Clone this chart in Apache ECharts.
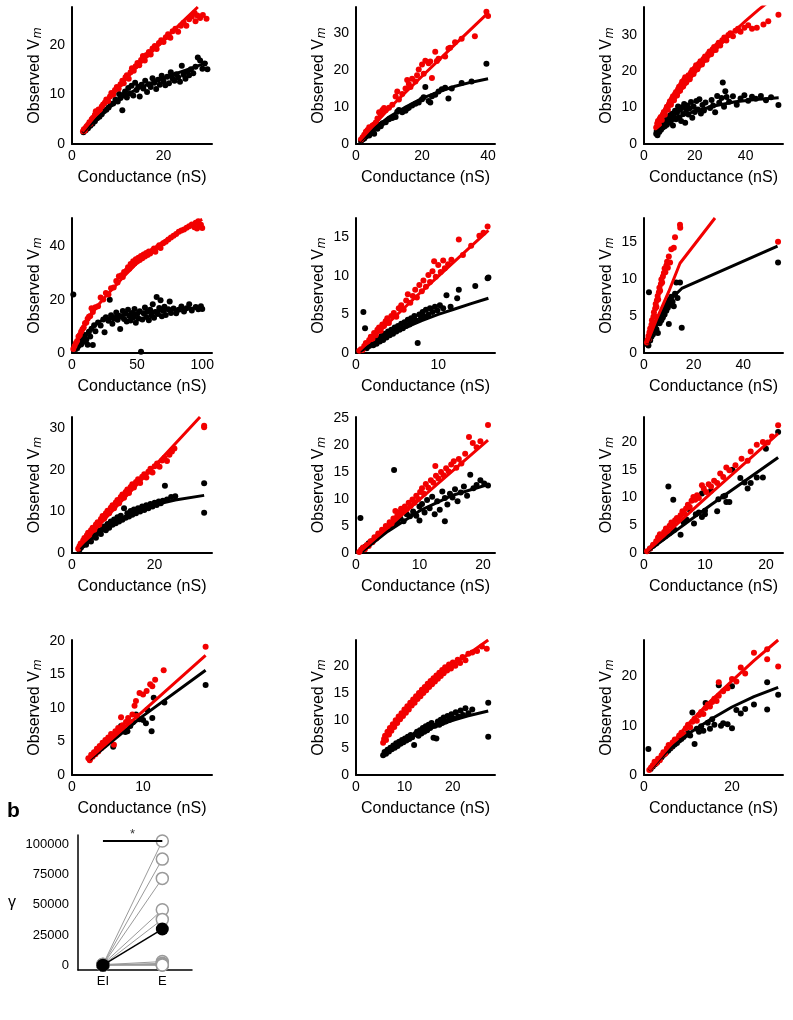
<!DOCTYPE html>
<html><head><meta charset="utf-8">
<script src="https://cdn.jsdelivr.net/npm/echarts@6/dist/echarts.min.js"></script>
<style>html,body{margin:0;padding:0;background:#fff}#c{width:793px;height:1020px}</style>
</head><body><div id="c"></div>
<script>
// ---------- DATA ----------
const p1Red=[[2.4,2.6],[2.6,3.0],[2.8,2.7],[3.0,3.3],[3.2,3.6],[3.5,3.9],[3.8,4.4],[4.0,4.1],[4.3,5.0],[4.6,5.3],[5.0,5.9],[5.2,6.6],[5.5,6.2],[5.8,7.0],[6.1,6.8],[6.5,7.6],[6.8,8.0],[7.2,8.4],[7.5,9.0],[7.9,8.7],[8.3,9.6],[8.6,10.3],[9.0,10.0],[9.4,10.9],[9.8,11.5],[10.2,11.2],[10.6,12.1],[11.0,12.8],[11.3,12.3],[11.7,13.5],[12.0,13.9],[12.4,13.2],[12.8,14.5],[13.1,15.3],[13.5,14.8],[13.9,15.7],[14.3,16.4],[14.7,15.9],[15.1,17.0],[15.5,17.8],[15.9,16.9],[16.3,18.0],[16.8,18.6],[17.2,18.1],[17.6,19.3],[18.1,19.8],[18.5,19.2],[19.0,20.4],[19.5,21.0],[20.0,20.6],[20.5,21.6],[21.0,22.2],[21.5,21.5],[22.0,22.8],[22.6,23.3],[23.2,22.7],[23.8,23.9],[24.4,24.5],[25.0,23.9],[25.6,25.2],[26.2,25.8],[26.8,26.5],[27.4,26.0],[28.0,25.5],[28.6,26.1],[29.4,25.3],[27.0,24.8]];
const p1Black=[[2.5,2.4],[3.0,2.8],[3.5,3.2],[4.0,3.7],[4.5,4.1],[5.0,4.6],[5.5,5.2],[6.0,5.5],[6.5,6.0],[7.0,6.6],[7.5,6.9],[8.0,7.4],[8.5,8.0],[9.0,8.2],[9.5,9.0],[10.0,8.6],[10.3,10.1],[10.6,9.3],[11.0,6.8],[11.2,9.9],[11.6,10.6],[12.0,9.4],[12.3,11.3],[12.7,10.2],[13.0,11.8],[13.4,9.8],[13.8,12.4],[14.1,10.9],[14.5,11.6],[14.8,9.6],[15.2,12.0],[15.6,11.2],[16.0,12.8],[16.4,10.5],[16.8,12.1],[17.2,11.5],[17.6,13.3],[18.0,12.4],[18.4,11.1],[18.8,13.0],[19.2,12.0],[19.6,13.8],[20.0,12.7],[20.4,11.9],[20.8,13.6],[21.2,12.3],[21.6,14.5],[22.0,13.2],[22.4,12.8],[22.8,14.1],[23.2,13.5],[23.6,12.6],[24.0,15.8],[24.4,14.0],[24.8,13.2],[25.2,14.6],[25.6,13.9],[26.0,15.1],[26.5,14.3],[27.0,15.6],[27.5,17.5],[28.0,16.9],[28.5,15.2],[29.0,16.3],[29.6,15.1]];
const p1RedFit=[[2.3,2.5],[5,5.6],[8,9.1],[11,12.3],[14,15.4],[17,18.2],[20,20.9],[24,24.6],[27.5,27.7]];
const p1BlackFit=[[2.3,2.3],[5,4.8],[8,7.3],[11,9.4],[14,11.0],[18,12.6],[22,14.0],[26,15.3],[29.6,16.5]];

const p2Red=[[1.5,1.2],[2,1.8],[2.5,2.5],[3,3.3],[3.5,3.8],[4,4.5],[4.5,4.2],[5,5.0],[5.5,5.3],[6,5.8],[6.5,6.9],[7,8.6],[7.5,8.0],[8,9.2],[8.5,9.7],[9,9.1],[10,9.8],[11,10.6],[12,12.8],[12.5,14.2],[13,12.0],[14,13.5],[15,15.0],[15.5,17.3],[16,16.2],[16.5,15.4],[17,17.6],[18,16.9],[18.5,18.6],[19,20.1],[20,21.5],[20.5,19.0],[21,22.5],[22,21.8],[22.5,22.3],[23,17.8],[24,24.9],[24.5,22.4],[25,23.0],[27,23.6],[28,25.8],[28.5,26.0],[30,27.5],[32,28.4],[36,29.1],[39.5,35.7],[40,34.6]];
const p2Black=[[1.5,0.8],[2,1.2],[2.5,1.5],[3,2.0],[3.5,2.5],[4,2.3],[4.5,3.0],[5,3.4],[5.5,2.8],[6,4.5],[6.5,4.1],[7,5.2],[7.5,4.8],[8,5.6],[9,5.9],[10,6.7],[11,7.0],[12,7.3],[12.5,8.7],[13,9.2],[14,8.6],[15,9.0],[15.5,9.6],[16,9.8],[17,10.4],[18,10.9],[19,11.2],[20,12.1],[20.5,12.6],[21,15.4],[22,11.6],[22.5,11.2],[23,12.9],[24,13.3],[25,14.2],[26,14.8],[27,15.2],[28,12.3],[29,15.0],[32,16.5],[35,16.9],[39.5,21.7]];
const p2RedFit=[[1,0.8],[10,9.6],[20,18.3],[30,26.9],[40,35.4]];
const p2BlackFit=[[1,0.6],[5,3.8],[10,7.3],[15,10.0],[20,12.3],[25,14.1],[30,15.6],[35,16.7],[40,17.6]];

const p3Red=[[4.8,4.5],[5.2,5.6],[5.5,6.3],[5.9,5.2],[6.2,6.9],[6.6,7.4],[7.0,6.6],[7.4,8.1],[7.8,8.8],[8.2,8.0],[8.6,9.5],[9.0,10.2],[9.4,9.4],[9.8,10.9],[10.2,11.7],[10.6,10.8],[11.0,12.4],[11.4,13.1],[11.8,12.0],[12.2,13.7],[12.6,14.3],[13.0,13.3],[13.4,15.0],[13.8,15.7],[14.2,14.6],[14.6,16.3],[15.0,17.1],[15.4,15.8],[15.8,17.6],[16.2,18.3],[16.6,16.9],[17.0,18.0],[17.5,18.9],[18.0,17.8],[18.5,19.6],[19.0,20.3],[19.5,19.2],[20.0,20.8],[20.5,21.6],[21.0,20.5],[21.6,22.0],[22.2,22.7],[22.8,21.8],[23.4,23.3],[24.0,24.0],[24.6,23.1],[25.2,24.7],[25.8,25.4],[26.4,24.6],[27.0,26.0],[27.6,26.6],[28.2,25.8],[28.8,27.1],[29.4,27.8],[30.0,27.0],[30.8,28.5],[31.6,29.2],[32.4,28.4],[33.2,29.9],[34.0,30.4],[35.0,29.6],[36.0,31.1],[37.0,31.6],[38.0,30.8],[39.5,31.9],[41.0,32.6],[42.5,31.6],[44.4,31.9],[47.0,32.8],[48.9,33.7],[52.9,35.5]];
const p3Black=[[4.8,2.8],[5.0,3.6],[5.3,2.4],[5.6,4.2],[6.0,3.3],[6.3,4.8],[6.7,3.9],[7.0,5.4],[7.4,4.5],[7.8,6.1],[8.2,4.9],[8.6,6.6],[9.0,5.3],[9.4,7.2],[9.8,5.9],[10.2,7.8],[10.6,6.4],[11.0,8.3],[11.4,5.1],[11.8,7.4],[12.2,9.1],[12.6,6.8],[13.0,8.6],[13.4,10.3],[13.8,7.3],[14.2,9.4],[14.6,6.3],[15.0,10.1],[15.4,8.2],[15.8,11.0],[16.2,5.8],[16.6,9.3],[17.0,10.6],[17.5,8.1],[18.0,9.8],[18.5,11.5],[19.0,7.2],[19.5,10.3],[20.0,8.8],[20.6,11.8],[21.2,9.5],[21.8,12.3],[22.4,8.4],[23.0,10.7],[23.6,9.2],[24.2,11.4],[26.0,9.9],[26.6,12.1],[27.2,10.6],[28.0,8.7],[28.8,13.2],[29.6,11.3],[30.5,12.6],[31.0,16.9],[32.0,14.5],[31.5,10.2],[32.5,12.9],[33.5,11.6],[35.0,13.1],[36.5,10.8],[38.0,12.5],[39.5,13.4],[41.0,11.9],[42.5,13.0],[44.0,12.4],[46.0,13.2],[48.0,12.0],[50.0,12.8],[52.9,10.7]];
const p3RedFit=[[4.5,4.5],[10,10.2],[15,15.1],[20,19.5],[25,23.5],[30,27.2],[35,30.6],[40,33.8],[45,36.8],[50,39.6]];
const p3BlackFit=[[5,3.3],[8,5.0],[12,6.8],[16,8.0],[20,9.0],[28,10.5],[36,11.6],[44,12.2],[53,12.7]];

const p4Red=[[1,1.5],[2,2.6],[3,3.8],[4,4.5],[5,6.2],[6,6.8],[7,8.0],[8,8.9],[9,9.6],[10,11.2],[11,11.5],[12,12.9],[13,13.6],[14,13.9],[15,16.8],[16,15.4],[18,17.2],[20,17.6],[22,20.8],[24,20.1],[26,22.5],[28,22.0],[30,24.3],[32,24.6],[34,27.0],[35,26.5],[36,28.8],[38,29.2],[39,28.5],[40,30.4],[42,31.0],[43,32.2],[44,31.6],[45,33.4],[46,32.8],[47,34.5],[48,33.6],[49,35.2],[50,34.4],[51,35.8],[52,34.9],[53,36.4],[54,35.6],[55,37.0],[56,36.2],[57,37.6],[58,36.8],[59,38.1],[60,37.4],[62,38.6],[63,39.2],[64,38.0],[66,39.8],[67,40.5],[68,39.4],[70,41.2],[72,41.8],[74,42.6],[76,43.4],[78,44.0],[80,44.7],[82,45.5],[84,46.0],[86,46.4],[88,47.0],[90,47.6],[92,48.3],[94,47.2],[95,48.9],[96,46.8],[97,49.5],[98,47.5],[99,48.2],[100,46.9]];
const p4Black=[[1,22],[3,1.5],[5,2.8],[6,4.5],[7,3.2],[8,5.9],[9,4.2],[10,6.8],[11,5.0],[12,3.1],[13,8.0],[14,6.2],[15,9.1],[16,3.0],[17,10.4],[18,8.2],[20,11.5],[22,10.3],[24,12.6],[25,7.8],[26,13.4],[28,12.1],[29,20.0],[30,14.2],[31,11.0],[32,13.0],[34,15.2],[35,12.5],[36,14.0],[37,9.0],[38,13.6],[39,15.8],[40,12.8],[41,14.8],[42,11.8],[43,16.2],[44,13.9],[45,12.2],[46,15.0],[47,13.3],[48,16.5],[49,11.4],[50,14.6],[51,13.0],[52,15.7],[53,0.5],[54,12.6],[55,14.9],[56,17.1],[57,13.5],[58,15.6],[59,12.3],[60,16.2],[61,14.1],[62,18.3],[63,13.2],[64,15.4],[65,21.0],[66,14.6],[67,16.9],[68,19.8],[69,13.8],[70,15.9],[71,17.4],[72,14.3],[74,16.4],[75,19.3],[76,15.0],[78,16.7],[80,14.9],[82,16.2],[84,17.5],[86,15.6],[88,16.8],[90,18.3],[92,16.0],[95,17.3],[97,16.4],[99,17.6],[100,16.5]];
const p4RedFit=[[1,1.5],[5,5.8],[10,10.6],[15,14.6],[20,17.9],[25,20.8],[30,23.5],[40,28.8],[50,33.8],[60,38.0],[70,41.8],[80,45.0],[90,47.8],[100,50.2]];
const p4BlackFit=[[4.5,1],[8,4.8],[12,7.9],[17,10.4],[23,12.2],[30,13.4],[40,14.4],[55,15.3],[70,16.0],[85,16.6],[100,17.0]];

const p5Red=[[0.4,0.3],[0.6,0.5],[0.8,0.4],[1.0,0.9],[1.2,1.3],[1.4,1.1],[1.6,1.7],[1.8,2.1],[2.0,1.8],[2.2,2.6],[2.4,2.3],[2.6,3.0],[2.8,3.3],[3.0,2.9],[3.2,3.7],[3.4,3.5],[3.6,4.1],[3.8,4.5],[4.0,3.9],[4.3,4.8],[4.6,5.2],[4.9,4.7],[5.2,5.8],[5.5,6.2],[5.8,5.6],[6.1,6.8],[6.3,7.6],[6.6,6.5],[6.9,7.4],[7.2,8.2],[7.4,7.2],[7.7,8.8],[8.0,8.0],[8.2,9.4],[8.5,8.6],[8.8,10.1],[9.0,9.2],[9.3,10.6],[9.5,11.9],[9.7,9.9],[10.0,11.4],[10.3,10.5],[10.6,12.0],[10.8,11.0],[11.2,11.5],[11.6,12.1],[12.5,14.7],[13.0,12.7],[14.0,13.9],[15.0,15.2],[15.5,15.6],[16.0,16.4]];
const p5Black=[[0.9,5.3],[1.1,3.2],[1.3,0.6],[1.6,0.9],[1.9,1.3],[2.1,1.0],[2.3,1.6],[2.5,1.2],[2.7,1.9],[2.9,1.5],[3.1,2.2],[3.3,1.7],[3.5,2.5],[3.7,2.0],[3.9,2.8],[4.1,2.3],[4.3,3.0],[4.5,2.5],[4.7,3.3],[4.9,2.8],[5.1,3.5],[5.3,3.0],[5.5,3.8],[5.7,3.2],[5.9,4.0],[6.1,3.5],[6.3,4.3],[6.5,3.7],[6.7,4.5],[6.9,4.0],[7.1,4.8],[7.3,4.2],[7.5,1.3],[7.7,5.0],[7.9,4.5],[8.1,5.3],[8.3,4.7],[8.5,5.6],[8.8,5.0],[9.0,5.8],[9.3,5.3],[9.6,6.0],[9.9,5.5],[10.2,6.2],[10.6,5.8],[11.0,7.5],[11.5,6.0],[12.3,7.1],[12.5,8.2],[14.5,8.7],[16.0,9.7],[16.1,9.8]];
const p5RedFit=[[0.3,0.2],[8,8.0],[16.1,15.9]];
const p5BlackFit=[[0.5,0.2],[2,1.2],[4,2.3],[6,3.3],[8,4.2],[10,5.0],[12,5.7],[14,6.4],[16.1,7.1]];

const p6Red=[[1.2,1.4],[1.5,1.8],[1.8,2.3],[2.0,1.9],[2.2,2.8],[2.5,3.3],[2.8,2.9],[3.0,3.8],[3.2,4.4],[3.5,4.0],[3.8,4.9],[4.0,5.5],[4.2,5.0],[4.5,6.0],[4.7,6.6],[5.0,6.2],[5.2,7.1],[5.5,7.7],[5.7,7.2],[6.0,8.2],[6.2,8.8],[6.5,8.4],[6.8,9.3],[7.0,9.9],[7.3,9.5],[7.6,10.3],[8.0,10.8],[8.3,11.4],[8.6,10.9],[9.0,11.8],[9.3,12.3],[9.6,11.5],[10.0,13.0],[10.5,12.2],[11.0,14.0],[12.0,14.2],[12.5,15.6],[14.5,17.3],[14.6,16.9],[54,15.0]];
const p6Black=[[1.2,1.2],[1.5,1.5],[1.8,1.0],[2.0,8.2],[2.2,2.0],[2.5,1.7],[2.8,2.6],[3.0,2.2],[3.3,3.0],[3.6,2.5],[4.0,3.4],[4.3,2.9],[4.6,3.8],[5.0,3.2],[5.3,4.2],[5.6,2.7],[6.0,4.6],[6.3,4.0],[6.6,5.0],[7.0,4.4],[7.3,5.5],[7.6,4.8],[8.0,5.9],[8.3,5.2],[8.6,6.4],[9.0,5.7],[9.3,6.8],[9.6,6.1],[10.0,3.9],[10.3,7.2],[10.6,6.5],[11.0,7.6],[11.5,6.9],[12.0,6.3],[12.5,8.0],[13.0,9.5],[13.5,7.4],[14.5,9.5],[15.2,3.4],[54,12.2]];
const p6RedFit=[[1.2,1.3],[5,4.5],[10,8.3],[14.5,12.1],[28.6,18.2]];
const p6BlackFit=[[1.5,1.2],[5,4.0],[10,7.0],[15.2,8.7],[53.8,14.4]];

const p7Red=[[1.5,1.0],[1.8,1.6],[2.1,2.3],[2.4,2.0],[2.7,3.0],[3.0,3.6],[3.3,3.2],[3.6,4.3],[3.9,4.9],[4.2,4.4],[4.3,3.5],[4.6,5.5],[5.0,6.1],[5.4,5.6],[5.8,6.9],[6.2,7.4],[6.6,6.8],[7.0,8.2],[7.4,8.9],[7.8,8.3],[8.2,9.6],[8.6,10.2],[9.0,9.6],[9.4,10.9],[9.8,11.5],[10.2,10.8],[10.6,12.2],[11.0,12.8],[11.4,12.0],[11.8,13.5],[12.2,14.1],[12.6,13.3],[13.0,14.7],[13.4,15.3],[13.8,14.5],[14.2,15.9],[14.6,16.6],[15.0,15.8],[15.5,17.1],[16.0,17.8],[16.5,16.9],[17.0,18.4],[17.5,19.0],[18.0,18.2],[18.5,19.6],[19.0,20.3],[19.5,19.4],[20.0,20.9],[20.6,21.6],[21.2,20.8],[21.8,22.3],[22.4,23.0],[23.0,22.2],[23.6,23.7],[24.2,24.5],[24.8,25.2],[32.0,30.7],[32.0,30.3]];
const p7Black=[[1.8,0.8],[2.2,1.3],[2.6,1.8],[3.0,2.3],[3.4,2.0],[3.8,2.9],[4.2,3.4],[4.6,2.8],[5.0,3.9],[5.4,4.4],[5.8,3.7],[6.2,4.9],[6.6,5.4],[7.0,4.6],[7.4,5.9],[7.8,6.4],[8.2,5.5],[8.6,7.0],[9.0,6.1],[9.4,7.6],[9.8,6.8],[10.2,8.1],[10.6,7.2],[11.0,8.6],[11.4,7.6],[11.8,9.0],[12.2,8.0],[12.6,10.8],[13.0,8.5],[13.4,9.6],[13.8,8.8],[14.2,10.1],[14.6,9.2],[15.0,10.5],[15.5,9.6],[16.0,10.8],[16.5,10.0],[17.0,11.2],[17.5,10.4],[18.0,11.5],[18.5,10.8],[19.0,11.8],[19.5,11.2],[20.0,12.1],[20.5,11.6],[21.0,12.4],[21.5,12.0],[22.0,12.6],[22.5,16.2],[23.0,12.9],[24.0,13.5],[25.0,13.7],[32.0,16.8],[32.0,9.7]];
const p7RedFit=[[1.5,1.2],[10,10.4],[20,21.0],[31,32.8]];
const p7BlackFit=[[2,1.0],[5,3.6],[10,7.3],[15,9.8],[20,11.6],[25,12.8],[32,13.9]];

const p8Red=[[0.5,0.2],[0.8,0.6],[1.1,1.0],[1.4,0.7],[1.7,1.5],[2.0,1.3],[2.3,2.2],[2.6,2.0],[2.9,2.9],[3.2,2.7],[3.5,3.6],[3.8,3.4],[4.1,4.3],[4.4,4.1],[4.7,5.0],[5.0,4.8],[5.3,5.7],[5.6,5.4],[5.9,6.4],[6.2,7.8],[6.5,6.9],[6.8,7.5],[7.1,8.2],[7.4,7.7],[7.7,8.6],[8.0,8.1],[8.3,9.3],[8.6,8.7],[8.9,9.9],[9.2,9.3],[9.5,10.6],[9.8,10.0],[10.1,11.3],[10.4,12.0],[10.7,11.0],[11.0,12.8],[11.4,12.1],[11.8,13.5],[12.2,13.0],[12.5,16.1],[12.6,14.3],[13.0,13.8],[13.4,15.0],[13.8,14.4],[14.2,15.7],[14.6,15.1],[15.0,16.4],[15.4,17.0],[15.8,15.8],[16.2,17.4],[16.6,16.6],[17.2,18.4],[17.8,21.5],[18.4,20.4],[19.0,19.6],[19.6,20.7],[20.8,23.7]];
const p8Black=[[0.7,6.5],[1.0,0.8],[1.5,1.2],[2.0,1.8],[2.5,2.2],[3.0,2.8],[3.5,3.2],[4.0,3.6],[4.5,4.1],[5.0,4.5],[5.5,4.9],[6.0,15.4],[6.0,5.4],[6.5,5.8],[7.0,6.4],[7.5,5.9],[8.0,7.2],[8.5,6.8],[9.0,7.7],[9.5,6.9],[10.0,8.6],[10.0,6.0],[10.4,9.1],[10.8,7.5],[11.2,9.8],[11.6,8.3],[12.0,10.4],[12.4,7.2],[12.8,9.6],[13.2,8.0],[13.6,11.4],[14.0,5.9],[14.0,10.2],[14.4,9.0],[14.8,11.0],[15.2,10.3],[15.6,11.8],[16.0,9.6],[16.5,11.2],[17.0,12.3],[17.5,10.6],[18.0,14.5],[18.5,12.0],[19.0,12.6],[19.6,13.5],[20.2,12.9],[20.8,12.5]];
const p8RedFit=[[0.5,0.1],[10,9.9],[20.8,20.9]];
const p8BlackFit=[[1,0.3],[5,4.0],[10,7.8],[15,10.6],[20.8,12.7]];

const p9Red=[[0.5,0.3],[1.0,0.8],[1.5,1.5],[2.0,2.1],[2.3,2.8],[2.6,3.4],[3.0,3.1],[3.3,3.8],[3.6,4.4],[3.9,4.0],[4.2,4.9],[4.5,5.5],[4.8,5.1],[5.1,5.9],[5.4,6.3],[5.7,6.0],[6.0,6.8],[6.3,7.5],[6.6,7.1],[6.9,8.0],[7.2,8.7],[7.5,8.3],[7.8,9.4],[8.1,10.1],[8.4,9.6],[8.7,10.4],[9.0,9.9],[9.5,12.2],[9.8,11.6],[10.2,11.0],[10.6,12.4],[11.0,12.0],[11.5,13.0],[12.0,12.6],[12.5,14.3],[13.0,13.7],[13.5,15.4],[14.0,14.9],[15.0,15.8],[16.0,17.0],[17.0,16.6],[17.5,18.3],[18.5,19.5],[19.5,20.0],[20.3,19.9],[21.0,21.0],[22.0,23.0]];
const p9Black=[[1.0,0.8],[1.5,1.3],[2.0,1.7],[2.5,2.3],[3.0,2.6],[3.5,3.0],[4.0,12.0],[4.2,3.6],[4.8,9.6],[5.0,4.2],[6.0,3.3],[6.5,5.5],[7.0,6.0],[7.5,7.8],[8.2,5.3],[8.5,7.0],[9.0,7.3],[9.5,6.5],[9.5,10.7],[10.0,7.6],[10.0,7.0],[11.0,11.2],[12.0,7.5],[12.2,9.7],[13.0,10.2],[13.3,10.3],[13.5,9.2],[14.0,9.2],[14.5,15.0],[15.8,13.5],[16.5,12.7],[17.0,11.6],[17.5,12.6],[18.5,13.6],[19.5,13.6],[20.0,18.8],[22.0,21.8]];
const p9RedFit=[[0.3,0.1],[11,10.8],[22,21.5]];
const p9BlackFit=[[0.5,0.2],[11,8.7],[22,17.2]];

const p10Red=[[2.3,2.5],[2.5,2.2],[2.7,3.0],[2.9,2.7],[3.1,3.4],[3.3,3.1],[3.5,3.9],[3.7,3.5],[3.9,4.3],[4.1,4.0],[4.3,4.8],[4.5,4.4],[4.7,5.2],[4.9,4.8],[5.1,5.6],[5.3,5.2],[5.5,6.1],[5.7,5.6],[5.9,4.5],[6.1,6.5],[6.3,6.0],[6.5,7.0],[6.7,6.5],[6.9,8.6],[7.1,7.4],[7.3,6.9],[7.6,7.9],[7.9,8.5],[8.2,7.8],[8.5,9.0],[8.8,10.3],[9.1,8.8],[9.0,11.0],[9.5,12.2],[10.0,12.0],[10.5,12.5],[11.0,13.5],[11.3,13.2],[11.7,14.2],[12.9,15.6],[18.8,19.1]];
const p10Black=[[2.5,2.4],[2.8,2.9],[3.1,3.2],[3.4,3.5],[3.7,3.8],[4.0,4.1],[4.3,4.4],[4.6,4.6],[4.9,4.9],[5.2,5.3],[5.5,5.6],[5.8,4.2],[6.0,5.9],[6.3,6.2],[6.6,6.5],[6.9,7.3],[7.2,6.9],[7.5,6.4],[7.8,6.5],[8.2,7.3],[8.6,7.9],[9.0,9.0],[9.5,8.3],[10.0,8.2],[10.4,7.7],[10.6,9.7],[11.2,6.5],[11.3,8.5],[11.5,11.5],[13.0,10.8],[18.8,13.4]];
const p10RedFit=[[2.3,2.3],[10,9.5],[18.8,17.8]];
const p10BlackFit=[[2.5,2.3],[10,8.8],[18.8,15.6]];

const p11Red=[[5.6,5.9],[5.8,6.6],[6.0,7.2],[6.2,6.4],[6.5,7.9],[6.8,7.4],[7.0,8.6],[7.3,8.1],[7.6,9.3],[7.9,8.8],[8.2,10.0],[8.5,9.5],[8.8,10.7],[9.1,10.2],[9.4,11.3],[9.7,10.8],[10.0,12.0],[10.3,11.4],[10.6,12.6],[10.9,12.0],[11.2,13.2],[11.5,12.7],[11.8,13.8],[12.1,13.2],[12.4,14.4],[12.7,13.9],[13.0,15.0],[13.3,14.4],[13.6,15.6],[13.9,15.0],[14.2,16.1],[14.5,15.5],[14.8,16.7],[15.1,16.1],[15.4,17.2],[15.7,16.6],[16.0,17.7],[16.3,17.1],[16.6,18.2],[16.9,17.6],[17.2,18.7],[17.5,18.1],[17.8,19.2],[18.1,18.6],[18.4,19.7],[18.8,19.1],[19.2,20.2],[19.6,19.5],[20.0,20.6],[20.5,20.0],[21.0,21.1],[21.5,20.5],[22.0,21.6],[22.6,21.0],[23.2,22.2],[24.0,22.4],[25.0,22.7],[26.0,23.5],[27.0,23.1]];
const p11Black=[[5.6,3.6],[5.9,4.2],[6.2,3.9],[6.5,4.6],[6.8,4.3],[7.1,5.0],[7.4,4.7],[7.7,5.4],[8.0,5.0],[8.3,5.8],[8.6,5.3],[8.9,6.1],[9.2,5.7],[9.5,6.4],[9.8,6.0],[10.1,6.7],[10.4,6.3],[10.7,7.0],[11.0,6.6],[11.3,7.3],[11.6,6.9],[12.0,5.5],[12.3,7.5],[12.6,7.9],[12.9,7.2],[13.2,8.2],[13.5,7.6],[13.8,8.6],[14.1,7.9],[14.4,8.9],[14.7,8.2],[15.0,9.2],[15.3,8.6],[15.6,9.5],[16.0,6.8],[16.3,9.0],[16.6,6.7],[16.9,9.8],[17.2,9.2],[17.5,10.1],[17.8,9.5],[18.1,10.5],[18.5,9.8],[18.9,10.8],[19.3,10.1],[19.7,11.1],[20.1,10.4],[20.6,11.5],[21.1,10.7],[21.6,11.8],[22.1,11.0],[22.6,12.2],[23.2,11.3],[24.0,12.0],[27.3,13.2],[27.3,7.0]];
const p11RedFit=[[5.6,5.8],[8,9.1],[11,12.6],[14,15.5],[17,17.9],[20,20.1],[23,22.0],[27.3,24.7]];
const p11BlackFit=[[5.6,4.1],[8,5.4],[11,6.8],[14,8.0],[17,9.1],[20,10.0],[23,10.8],[27.3,11.7]];

const p12Red=[[1.2,1.0],[1.6,1.5],[2.0,2.0],[2.4,2.7],[2.8,2.4],[3.2,3.3],[3.6,3.0],[4.0,4.0],[4.4,4.6],[4.8,4.3],[5.2,5.4],[5.6,6.1],[6.0,5.7],[6.5,6.6],[7.0,7.2],[7.5,6.9],[8.0,8.0],[8.5,8.6],[9.0,8.3],[9.5,9.5],[10.0,10.2],[10.5,9.7],[11.0,10.8],[11.5,11.4],[12.0,11.0],[12.5,12.2],[13.0,12.8],[13.5,12.4],[14.0,13.6],[14.5,14.3],[15.0,13.9],[15.5,14.8],[16.0,15.5],[16.5,15.0],[17.0,16.1],[17.0,18.8],[18.0,17.0],[19.0,17.6],[20.0,19.5],[21.0,19.0],[22.0,21.8],[23.0,20.6],[25.0,24.8],[28.0,25.5],[28.0,23.5],[30.5,22.0]];
const p12Black=[[1.0,5.3],[1.5,1.2],[2.0,1.7],[2.5,2.2],[3.0,2.6],[3.5,3.2],[4.0,3.6],[4.5,4.1],[5.0,4.5],[5.5,4.9],[6.0,5.4],[6.5,5.8],[7.0,6.2],[7.5,6.5],[8.0,7.0],[8.5,7.3],[9.0,7.7],[9.5,8.1],[10.0,8.5],[10.5,8.0],[11.0,12.7],[11.5,6.3],[12.0,9.4],[12.5,8.8],[13.0,9.9],[13.5,9.0],[14.0,14.6],[14.5,10.6],[15.0,9.4],[15.5,11.3],[16.0,10.2],[17.0,18.2],[17.5,10.0],[18.0,10.5],[19.0,10.3],[20.0,9.5],[20.0,18.0],[21.0,13.2],[22.0,12.5],[23.0,13.4],[25.0,14.3],[28.0,13.3],[28.0,18.8],[30.5,16.3]];
const p12RedFit=[[1.2,1.0],[5,5.0],[10,10.3],[15,14.9],[20,19.1],[25,23.2],[30.5,27.4]];
const p12BlackFit=[[1.2,0.9],[5,4.6],[10,8.3],[15,11.2],[20,13.8],[25,15.9],[30.5,17.8]];

// axis extents and tick labels per panel
const xMaxes=[30.6,42.1,54.7,107.5,16.9,56,33.9,21.9,22.8,19.7,28.7,31.6];
const yMaxes=[27.7,37.0,37.6,50.7,17.5,18.2,32.8,25.2,24.5,20.1,24.7,27.4];
const xTickSets=[[0,20],[0,20,40],[0,20,40],[0,50,100],[0,10],[0,20,40],[0,20],[0,10,20],[0,10,20],[0,10],[0,10,20],[0,20]];
const yTickSets=[[0,10,20],[0,10,20,30],[0,10,20,30],[0,20,40],[0,5,10,15],[0,5,10,15],[0,10,20,30],[0,5,10,15,20,25],[0,5,10,15,20],[0,5,10,15,20],[0,5,10,15,20],[0,10,20]];

// panel b (gamma)
const gammaCategories=['EI','E'];
const gammaEI=[500,300,200,800,100,400,0,600,200,300,100,400];
const gammaE=[103000,88000,72000,46000,38000,3000,1500,800,500,300,200,100];
const gammaMean=[0,30000];
const gammaTicks=[0,25000,50000,75000,100000];
const sigBar=103000;

// ---------- LAYOUT ----------
const colLeft=[72,356,644], colWidth=[140,139,139];
const rowTop=[7,218,417,640], rowHeight=[137,135,136,135];
const FONT="'Liberation Sans', Arial, Helvetica, sans-serif";
const RED='#f20000', BLACK='#000';

const reds=[p1Red,p2Red,p3Red,p4Red,p5Red,p6Red,p7Red,p8Red,p9Red,p10Red,p11Red,p12Red];
const blacks=[p1Black,p2Black,p3Black,p4Black,p5Black,p6Black,p7Black,p8Black,p9Black,p10Black,p11Black,p12Black];
const redFits=[p1RedFit,p2RedFit,p3RedFit,p4RedFit,p5RedFit,p6RedFit,p7RedFit,p8RedFit,p9RedFit,p10RedFit,p11RedFit,p12RedFit];
const blackFits=[p1BlackFit,p2BlackFit,p3BlackFit,p4BlackFit,p5BlackFit,p6BlackFit,p7BlackFit,p8BlackFit,p9BlackFit,p10BlackFit,p11BlackFit,p12BlackFit];

const grid=[],xAxis=[],yAxis=[],series=[];
const axisLine={show:true,onZero:false,lineStyle:{color:'#000',width:2}};
for(let i=0;i<12;i++){
  const r=Math.floor(i/3), c=i%3;
  grid.push({left:colLeft[c],top:rowTop[r],width:colWidth[c],height:rowHeight[r],containLabel:false});
  xAxis.push({gridIndex:i,type:'value',min:0,max:xMaxes[i],axisLine,axisTick:{show:false},splitLine:{show:false},
    axisLabel:{customValues:xTickSets[i],color:'#000',fontSize:14,margin:5,fontFamily:FONT},
    name:'Conductance (nS)',nameLocation:'middle',nameGap:26,nameTextStyle:{color:'#000',fontSize:16,fontFamily:FONT}});
  yAxis.push({gridIndex:i,type:'value',min:0,max:yMaxes[i],axisLine,axisTick:{show:false},splitLine:{show:false},
    axisLabel:{customValues:yTickSets[i],color:'#000',fontSize:14,margin:7,fontFamily:FONT},
    name:'Observed V{m|m}',nameLocation:'middle',nameGap:28,
    nameTextStyle:{color:'#000',fontSize:16,fontFamily:FONT,rich:{m:{fontSize:13,fontStyle:'italic',fontFamily:FONT,color:'#000',verticalAlign:'bottom',padding:[5,0,0,1]}}}});
  const common={xAxisIndex:i,yAxisIndex:i,silent:true,animation:false};
  series.push({...common,type:'scatter',data:blacks[i],symbolSize:6,itemStyle:{color:BLACK,opacity:1}});
  series.push({...common,type:'scatter',data:reds[i],symbolSize:6,itemStyle:{color:RED,opacity:1}});
  series.push({...common,type:'line',data:blackFits[i],showSymbol:false,lineStyle:{color:BLACK,width:3},clip:true});
  series.push({...common,type:'line',data:redFits[i],showSymbol:false,lineStyle:{color:RED,width:3},clip:true});
}

// panel b
const bi=12;
grid.push({left:78,top:835,width:114,height:135});
xAxis.push({gridIndex:bi,type:'value',min:-0.42,max:1.5,axisLine:{show:true,onZero:false,lineStyle:{color:'#000',width:1.5}},axisTick:{show:false},splitLine:{show:false},
  axisLabel:{customValues:[0,1],formatter:v=>gammaCategories[Math.round(v)]||'',color:'#000',fontSize:13,margin:5,fontFamily:FONT}});
yAxis.push({gridIndex:bi,type:'value',min:-4000,max:108000,axisLine:{show:true,onZero:false,lineStyle:{color:'#000',width:1.5}},axisTick:{show:false},splitLine:{show:false},
  axisLabel:{customValues:gammaTicks,formatter:v=>String(v),color:'#000',fontSize:13,margin:9,fontFamily:FONT},
  name:'γ',nameLocation:'middle',nameRotate:0,nameGap:62,nameTextStyle:{color:'#000',fontSize:16,fontFamily:FONT}});
const bc={xAxisIndex:bi,yAxisIndex:bi,silent:true,animation:false};
for(let k=0;k<gammaE.length;k++){
  series.push({...bc,type:'line',data:[[0,gammaEI[k]],[1,gammaE[k]]],symbol:'circle',symbolSize:12,showSymbol:true,
    lineStyle:{color:'#9a9a9a',width:1},itemStyle:{color:'#fff',borderColor:'#9a9a9a',borderWidth:1.5},z:3});
}
series.push({...bc,type:'line',data:[[0,gammaMean[0]],[1,gammaMean[1]]],symbol:'circle',symbolSize:13,showSymbol:true,
  lineStyle:{color:'#000',width:1.5},itemStyle:{color:'#000'},z:5});
series.push({...bc,type:'line',data:[[0,sigBar],[1,sigBar]],showSymbol:false,lineStyle:{color:'#000',width:2},z:5});
series.push({...bc,type:'scatter',data:[[0.5,sigBar]],symbolSize:0,
  label:{show:true,formatter:'*',position:'top',distance:0,color:'#000',fontSize:13,fontFamily:FONT},z:5});

const chart=echarts.init(document.getElementById('c'),null,{renderer:'canvas'});
chart.setOption({
  animation:false,backgroundColor:'#fff',textStyle:{fontFamily:FONT},
  grid,xAxis,yAxis,series,
  graphic:[{type:'text',left:7,top:801,style:{text:'b',font:'bold 21px '+FONT,fill:'#000'}}]
});
</script></body></html>
